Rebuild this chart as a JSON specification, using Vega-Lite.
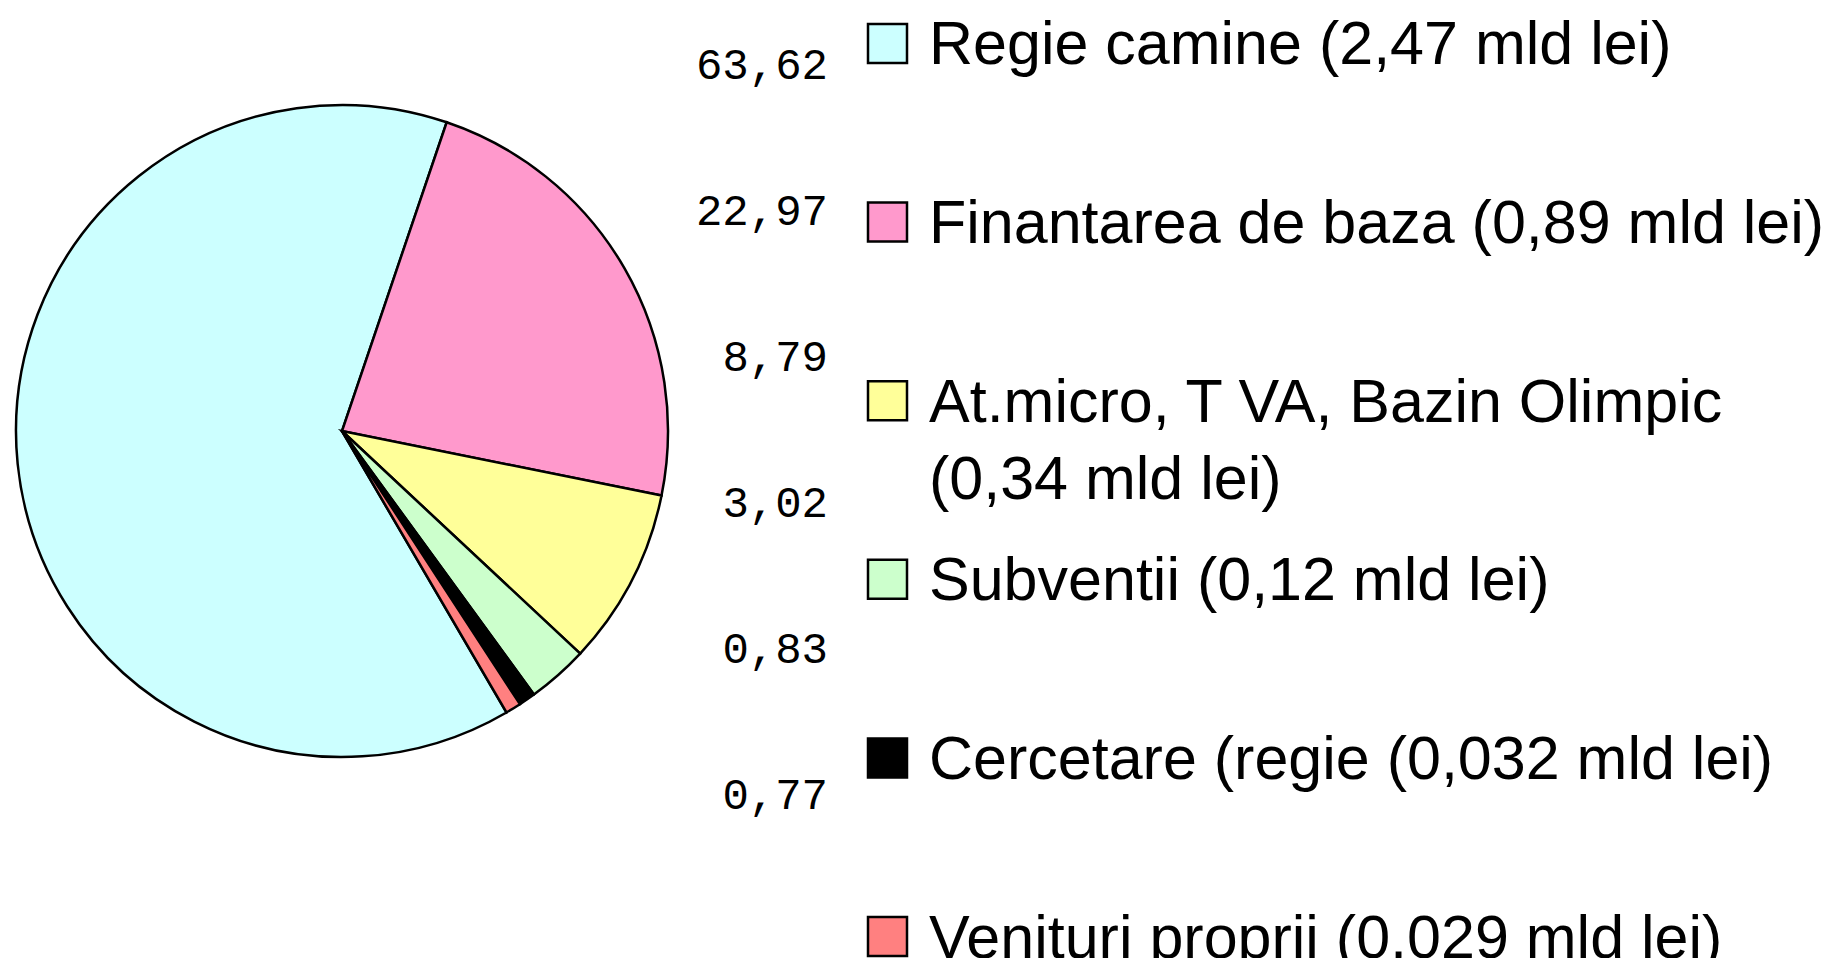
{
  "$schema": "https://vega.github.io/schema/vega-lite/v6.json",
  "padding": 0,
  "background": "white",
  "bounds": "flush",
  "spacing": 38,
  "config": {
    "view": {"stroke": null},
    "locale": {"number": {"decimal": ",", "thousands": ".", "grouping": [3], "currency": ["", ""]}}
  },
  "data": {
    "values": [
      {"k": 1, "cat": "Regie camine", "label": "Regie camine (2,47 mld lei)", "pct": 63.62},
      {"k": 2, "cat": "Finantarea de baza", "label": "Finantarea de baza (0,89 mld lei)", "pct": 22.97},
      {"k": 3, "cat": "At.micro, T VA, Bazin Olimpic", "label": "At.micro, T VA, Bazin Olimpic\n(0,34 mld lei)", "pct": 8.79},
      {"k": 4, "cat": "Subventii", "label": "Subventii (0,12 mld lei)", "pct": 3.02},
      {"k": 5, "cat": "Cercetare", "label": "Cercetare (regie (0,032 mld lei)", "pct": 0.83},
      {"k": 6, "cat": "Venituri proprii", "label": "Venituri proprii (0,029 mld lei)", "pct": 0.77}
    ]
  },
  "hconcat": [
    {
      "width": 684,
      "height": 862,
      "mark": {"type": "arc", "radius": 326, "stroke": "black", "strokeWidth": 2.5},
      "encoding": {
        "theta": {"field": "pct", "type": "quantitative", "stack": true, "scale": {"range": [2.6127, 8.8959]}},
        "color": {
          "field": "cat", "type": "nominal", "legend": null,
          "scale": {
            "domain": ["Regie camine", "Finantarea de baza", "At.micro, T VA, Bazin Olimpic", "Subventii", "Cercetare", "Venituri proprii"],
            "range": ["#CCFFFF", "#FF99CC", "#FFFF99", "#CCFFCC", "#000000", "#FF8080"]
          }
        },
        "order": {"field": "k", "type": "quantitative"}
      }
    },
    {
      "width": 107,
      "height": 862,
      "mark": {"type": "text", "font": "Liberation Mono", "fontSize": 44, "align": "right", "baseline": "middle", "color": "black", "dx": -1},
      "encoding": {
        "y": {
          "field": "cat", "type": "nominal", "axis": null,
          "sort": ["Regie camine", "Finantarea de baza", "At.micro, T VA, Bazin Olimpic", "Subventii", "Cercetare", "Venituri proprii"],
          "scale": {"type": "point", "padding": 0.45}
        },
        "x": {"value": "width"},
        "text": {"field": "pct", "type": "quantitative", "format": ".2f"}
      }
    },
    {
      "width": 41,
      "height": 980,
      "layer": [
        {
          "mark": {"type": "point", "shape": "square", "filled": true, "size": 1521, "stroke": "black", "strokeWidth": 2.5, "opacity": 1},
          "encoding": {
            "y": {
              "field": "cat", "type": "nominal", "axis": null,
              "sort": ["Regie camine", "Finantarea de baza", "At.micro, T VA, Bazin Olimpic", "Subventii", "Cercetare", "Venituri proprii"],
              "scale": {"type": "point", "padding": 0.243}
            },
            "color": {"field": "cat", "type": "nominal", "legend": null}
          }
        },
        {
          "mark": {"type": "text", "font": "Liberation Sans", "fontSize": 61, "align": "left", "baseline": "alphabetic", "dx": 21, "dy": 21, "lineBreak": "\n", "lineHeight": 77, "color": "black"},
          "encoding": {
            "y": {
              "field": "cat", "type": "nominal", "axis": null,
              "sort": ["Regie camine", "Finantarea de baza", "At.micro, T VA, Bazin Olimpic", "Subventii", "Cercetare", "Venituri proprii"],
              "scale": {"type": "point", "padding": 0.243}
            },
            "x": {"value": "width"},
            "text": {"field": "label"}
          }
        }
      ]
    }
  ]
}
